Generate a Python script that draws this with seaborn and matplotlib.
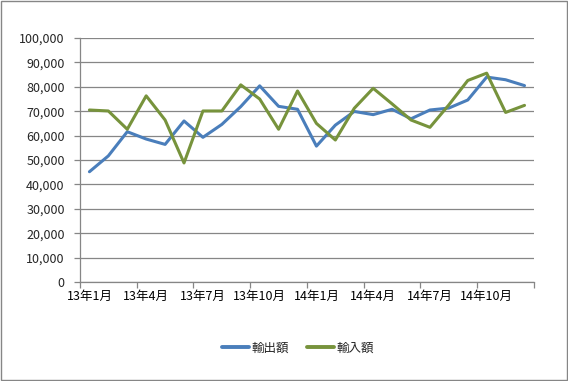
import numpy as np
import pandas as pd
import matplotlib
matplotlib.use("Agg")
import matplotlib.pyplot as plt
import matplotlib.ticker as mticker
from matplotlib.patches import Rectangle
import seaborn as sns

# monthly values, 13年1月 .. 14年12月
months = [f"{y}年{m}月" for y in (13, 14) for m in range(1, 13)]
exports = [45200, 51700, 61600, 58600, 56400, 66000, 59300, 64600, 71900, 80400, 72000, 70800,
           55700, 64300, 69900, 68600, 70800, 66900, 70500, 71300, 74600, 84000, 82900, 80500]
imports = [70500, 70100, 62600, 76300, 66400, 48800, 70100, 70100, 80800, 75000, 62600, 78300,
           65000, 58200, 71200, 79400, 73000, 66400, 63400, 72600, 82600, 85600, 69500, 72400]
series_names = ["輸出額", "輸入額"]
colors = ["#4A7EBB", "#77933C"]

df = pd.DataFrame({
    "idx": list(range(len(months))) * 2,
    "value": exports + imports,
    "series": [series_names[0]] * len(months) + [series_names[1]] * len(months),
})

sns.set_theme(style="white")
plt.rcParams["font.family"] = ["Noto Sans CJK JP", "DejaVu Sans"]

fig = plt.figure(figsize=(5.68, 3.81), dpi=100)
ax = fig.add_axes([0.1408, 0.2598, 0.7993, 0.6404])

sns.lineplot(data=df, x="idx", y="value", hue="series", palette=colors,
             linewidth=2.2, ax=ax, legend=False)

ax.set_xlim(-0.5, len(months) - 0.5)
ax.set_ylim(0, 100000)
ax.yaxis.set_major_locator(mticker.MultipleLocator(10000))
ax.yaxis.set_major_formatter(mticker.FuncFormatter(lambda v, p: f"{int(v):,}"))
ax.grid(axis="y", color="#868686", linewidth=0.9)
ax.set_axisbelow(True)

# tick marks on category boundaries, labels on categories
ax.set_xticks(np.arange(-0.5, len(months), 3))
ax.set_xticklabels([])
ax.set_xticks(np.arange(0, len(months), 3), minor=True)
ax.set_xticklabels(months[::3], minor=True)
ax.tick_params(axis="x", which="major", length=4, color="#868686", width=0.9, direction="out")
ax.tick_params(axis="x", which="minor", length=0, labelsize=9, pad=6, colors="#000000")
ax.tick_params(axis="y", length=4, color="#868686", width=0.9, direction="out", labelsize=9, pad=7)
ax.xaxis.set_ticks_position("bottom")
ax.yaxis.set_ticks_position("left")

for s in ["top", "right"]:
    ax.spines[s].set_visible(False)
for s in ["left", "bottom"]:
    ax.spines[s].set_color("#868686")
    ax.spines[s].set_linewidth(0.9)

ax.set_xlabel("")
ax.set_ylabel("")

handles = [plt.Line2D([], [], color=c, linewidth=2.8) for c in colors]
fig.legend(handles, series_names, loc="center", bbox_to_anchor=(0.525, 0.087), ncol=2,
           frameon=False, fontsize=9, handlelength=2.2, handletextpad=0.2, columnspacing=1.4)

fig.add_artist(Rectangle((0.001, 0.002), 0.997, 0.996, transform=fig.transFigure,
                         fill=False, edgecolor="#868686", linewidth=1))

fig.savefig("out.png", dpi=100)
